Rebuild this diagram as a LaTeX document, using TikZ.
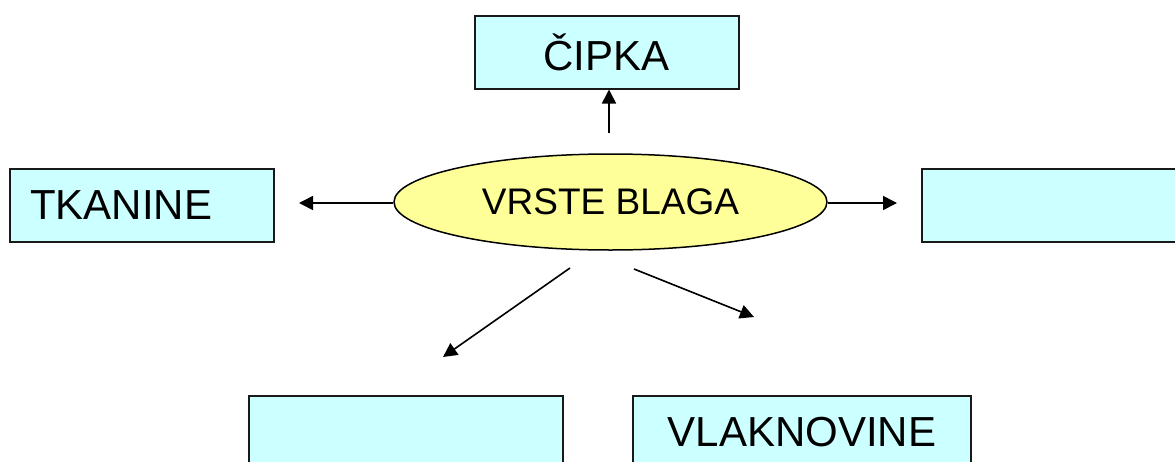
\documentclass[tikz,border=0pt]{standalone}
\usepackage{fontspec}
\setmainfont{Liberation Sans}
\usetikzlibrary{shapes.geometric,arrows.meta}
\definecolor{boxfill}{HTML}{CCFFFF}
\definecolor{ellfill}{HTML}{FFFF99}
\begin{document}
\begin{tikzpicture}[x=1pt,y=-1pt,
  catbox/.style={draw=black!90,line width=2pt,fill=boxfill,minimum width=264pt,minimum height=73pt,inner sep=0pt,font=\fontsize{42}{50}\selectfont},
  hub/.style={ellipse,draw=black,line width=1.5pt,fill=ellfill,minimum width=433pt,minimum height=96pt,inner sep=0pt,font=\fontsize{37}{44}\selectfont},
  conn/.style={line width=1.6pt,-{Triangle[length=14pt,width=14pt]}}]
\useasboundingbox (0,0) rectangle (1175,461);
\clip (0,0) rectangle (1175,461);
\node[catbox] (cipka) at (606.5,52) {ČIPKA};
\node[catbox,text width=224pt,align=left,inner xsep=20pt] (tkanine) at (142,205.5) {TKANINE};
\node[catbox,minimum width=300pt] (right) at (1072,205.5) {};
\node[catbox,minimum width=314pt] (botleft) at (406,432.5) {};
\node[catbox,minimum width=338pt] (vlakno) at (802,432.5) {VLAKNOVINE};
\node[hub] (hub) at (610.5,202) {VRSTE BLAGA};
\coordinate (upstart) at (609,133);
\coordinate (leftend) at (299,203);
\coordinate (rightend) at (897,203);
\coordinate (dlstart) at (570,268);
\coordinate (dlend) at (443,357);
\coordinate (drstart) at (634,269);
\coordinate (drend) at (754,317);
\draw[conn] (upstart) -- (upstart |- cipka.south);
\draw[conn] (hub.west |- leftend) -- (leftend);
\draw[conn] (hub.east |- rightend) -- (rightend);
\draw[conn] (dlstart) -- (dlend);
\draw[conn] (drstart) -- (drend);
\end{tikzpicture}
\end{document}
